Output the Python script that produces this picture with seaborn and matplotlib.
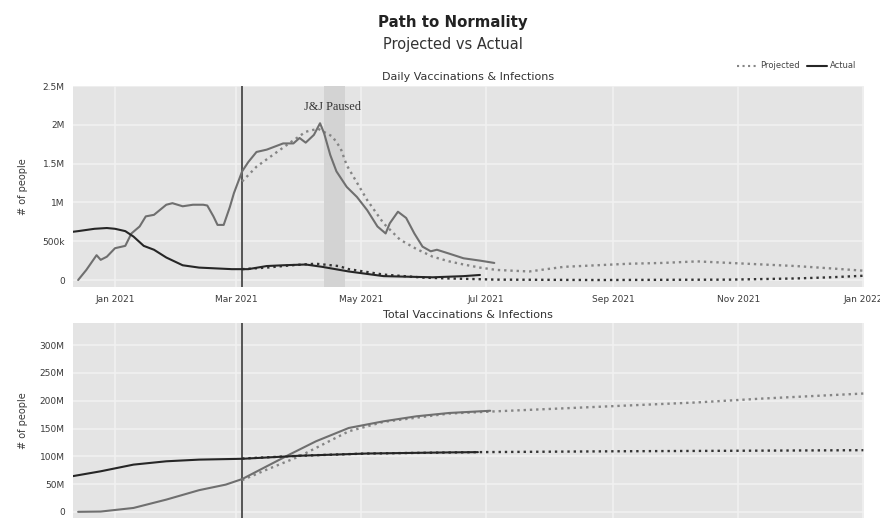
import matplotlib
matplotlib.use("Agg")
import matplotlib.pyplot as plt
import matplotlib.dates as mdates
from matplotlib.ticker import FuncFormatter
from matplotlib.lines import Line2D
import seaborn as sns
import pandas as pd

# ---------------- data (values in millions) ----------------
daily_vacc_actual_dates = ["2020-12-14", "2020-12-18", "2020-12-23", "2020-12-25", "2020-12-28",
                           "2021-01-01", "2021-01-06", "2021-01-09", "2021-01-13", "2021-01-16",
                           "2021-01-20", "2021-01-26", "2021-01-29", "2021-02-03", "2021-02-08",
                           "2021-02-13", "2021-02-15", "2021-02-18", "2021-02-20", "2021-02-23",
                           "2021-02-26", "2021-02-28", "2021-03-04", "2021-03-07", "2021-03-11",
                           "2021-03-16", "2021-03-24", "2021-03-29", "2021-04-01", "2021-04-04",
                           "2021-04-08", "2021-04-11", "2021-04-13", "2021-04-16", "2021-04-19",
                           "2021-04-24", "2021-04-29", "2021-05-04", "2021-05-09", "2021-05-13",
                           "2021-05-15", "2021-05-19", "2021-05-23", "2021-05-27", "2021-05-31",
                           "2021-06-04", "2021-06-07", "2021-06-13", "2021-06-20", "2021-06-28",
                           "2021-07-05"]
daily_vacc_actual = [0.0, 0.13, 0.32, 0.26, 0.30,
                     0.41, 0.44, 0.60, 0.69, 0.82,
                     0.84, 0.97, 0.99, 0.95, 0.97,
                     0.97, 0.96, 0.82, 0.71, 0.71,
                     0.94, 1.12, 1.40, 1.52, 1.65,
                     1.68, 1.76, 1.76, 1.83, 1.77,
                     1.87, 2.02, 1.89, 1.61, 1.40,
                     1.20, 1.07, 0.90, 0.69, 0.60,
                     0.73, 0.88, 0.80, 0.60, 0.43,
                     0.37, 0.39, 0.34, 0.28, 0.25,
                     0.22]

daily_vacc_proj_dates = ["2021-03-04", "2021-03-11", "2021-03-21", "2021-03-29", "2021-04-04",
                         "2021-04-10", "2021-04-17", "2021-04-21", "2021-04-24", "2021-05-04",
                         "2021-05-12", "2021-05-20", "2021-05-28", "2021-06-05", "2021-06-13",
                         "2021-06-20", "2021-06-28", "2021-07-06", "2021-07-22", "2021-08-08",
                         "2021-08-24", "2021-09-09", "2021-09-25", "2021-10-12", "2021-10-28",
                         "2021-11-13", "2021-11-29", "2021-12-16", "2022-01-01"]
daily_vacc_proj = [1.27, 1.46, 1.65, 1.80, 1.91,
                   1.95, 1.85, 1.70, 1.48, 1.03,
                   0.73, 0.52, 0.40, 0.30, 0.24,
                   0.20, 0.16, 0.13, 0.11, 0.17,
                   0.19, 0.21, 0.22, 0.24, 0.22,
                   0.20, 0.18, 0.15, 0.12]

daily_inf_actual_dates = ["2020-12-11", "2020-12-14", "2020-12-22", "2020-12-28", "2021-01-01",
                          "2021-01-06", "2021-01-10", "2021-01-15", "2021-01-20", "2021-01-26",
                          "2021-02-03", "2021-02-11", "2021-02-27", "2021-03-07", "2021-03-16",
                          "2021-03-24", "2021-04-04", "2021-04-12", "2021-04-25", "2021-05-12",
                          "2021-06-05", "2021-06-20", "2021-06-28"]
daily_inf_actual = [0.62, 0.63, 0.66, 0.67, 0.66,
                    0.63, 0.56, 0.44, 0.39, 0.29,
                    0.19, 0.16, 0.14, 0.14, 0.18,
                    0.19, 0.20, 0.17, 0.11, 0.05,
                    0.035, 0.05, 0.065]

daily_inf_proj_dates = ["2021-03-04", "2021-03-16", "2021-03-28", "2021-04-09", "2021-04-20",
                        "2021-04-25", "2021-05-12", "2021-06-01", "2021-06-13", "2021-07-06",
                        "2021-08-24", "2021-10-28", "2021-11-29", "2021-12-16", "2022-01-01"]
daily_inf_proj = [0.14, 0.16, 0.19, 0.21, 0.18,
                  0.14, 0.07, 0.03, 0.02, 0.005,
                  0.0, 0.005, 0.02, 0.035, 0.055]

total_vacc_actual_dates = ["2020-12-14", "2020-12-25", "2021-01-10", "2021-01-26", "2021-02-11",
                           "2021-02-24", "2021-03-04", "2021-03-16", "2021-03-27", "2021-04-09",
                           "2021-04-25", "2021-05-12", "2021-05-28", "2021-06-13", "2021-07-03"]
total_vacc_actual = [0, 0.5, 7, 22, 39,
                     49, 59, 82, 103, 127,
                     151, 163, 172, 178, 182]

total_vacc_proj_dates = ["2021-03-04", "2021-03-16", "2021-04-01", "2021-04-25", "2021-05-12",
                         "2021-06-13", "2021-07-06", "2021-08-24", "2021-10-12", "2021-11-13",
                         "2022-01-01"]
total_vacc_proj = [57, 76, 100, 145, 162,
                   177, 181, 189, 197, 204,
                   213]

total_inf_actual_dates = ["2020-12-11", "2020-12-25", "2021-01-10", "2021-01-26", "2021-02-11",
                          "2021-03-04", "2021-04-01", "2021-05-04", "2021-06-13", "2021-06-27"]
total_inf_actual = [64, 73, 85, 91, 94,
                    95.5, 101, 105, 107, 107.5]

total_inf_proj_dates = ["2021-03-04", "2021-04-01", "2021-05-04", "2021-06-27", "2021-09-01",
                        "2022-01-01"]
total_inf_proj = [96, 101, 105, 107.5, 109, 111]

daily_yticks = [0, 0.5, 1, 1.5, 2, 2.5]
total_yticks = [0, 50, 100, 150, 200, 250, 300]
start_marker = "2021-03-04"
jj_pause = ("2021-04-13", "2021-04-23")

# ---------------- style ----------------
BG = "#e4e4e4"
GRID = "#f1f1f1"
sns.set_theme(style="darkgrid", rc={"axes.facecolor": BG, "grid.color": GRID,
                                     "grid.linewidth": 1.2, "figure.facecolor": "white"})
plt.rcParams["font.family"] = ["DejaVu Sans"]

C_VACC = "#6f6f6f"
C_INF = "#262626"
C_VACC_P = "#858585"
C_INF_P = "#333333"

fig = plt.figure(figsize=(8.8, 5.18), dpi=100)
W, H = 880, 518
ax1 = fig.add_axes([73 / W, 1 - 287 / H, (864 - 73) / W, (287 - 86) / H])
ax2 = fig.add_axes([73 / W, 1 - 518.5 / H, (864 - 73) / W, (518.5 - 323) / H])


def frame(dates, vals):
    return pd.DataFrame({"date": pd.to_datetime(dates), "value": [v * 1e6 for v in vals]})


def draw(ax, dates, vals, color, dotted):
    sns.lineplot(data=frame(dates, vals), x="date", y="value", ax=ax, color=color,
                 linewidth=1.5 if not dotted else 1.7,
                 linestyle=":" if dotted else "-", zorder=3)


# top panel
ax1.axvspan(pd.Timestamp(jj_pause[0]), pd.Timestamp(jj_pause[1]), color="#d3d3d3", zorder=1, lw=0)
draw(ax1, daily_vacc_proj_dates, daily_vacc_proj, C_VACC_P, True)
draw(ax1, daily_inf_proj_dates, daily_inf_proj, C_INF_P, True)
draw(ax1, daily_vacc_actual_dates, daily_vacc_actual, C_VACC, False)
draw(ax1, daily_inf_actual_dates, daily_inf_actual, C_INF, False)
ax1.text(pd.Timestamp("2021-04-17"), 2.23e6, "J&J Paused", family="Liberation Serif",
         fontsize=8.8, ha="center", va="center", color="#333333")

# bottom panel
draw(ax2, total_vacc_proj_dates, total_vacc_proj, C_VACC_P, True)
draw(ax2, total_inf_proj_dates, total_inf_proj, C_INF_P, True)
draw(ax2, total_vacc_actual_dates, total_vacc_actual, C_VACC, False)
draw(ax2, total_inf_actual_dates, total_inf_actual, C_INF, False)


def fmt(v, _):
    if abs(v) < 1:
        return "0"
    if abs(v) >= 1e6:
        return f"{v / 1e6:g}M"
    return f"{v / 1e3:g}k"


xmin, xmax = pd.Timestamp("2020-12-11 12:00"), pd.Timestamp("2022-01-01 08:00")
for ax, yt, ylim in [(ax1, daily_yticks, (-0.09e6, 2.5e6)), (ax2, total_yticks, (-12e6, 340e6))]:
    ax.axvline(pd.Timestamp(start_marker), color="#555555", lw=1.4, zorder=2)
    ax.set_xlim(xmin, xmax)
    ax.set_ylim(*ylim)
    ax.set_yticks([v * 1e6 for v in yt])
    ax.yaxis.set_major_formatter(FuncFormatter(fmt))
    ax.xaxis.set_major_locator(mdates.MonthLocator(bymonth=[1, 3, 5, 7, 9, 11]))
    ax.xaxis.set_major_formatter(mdates.DateFormatter("%b %Y"))
    ax.grid(True, color=GRID, lw=1.2)
    for s in ax.spines.values():
        s.set_visible(False)
    ax.tick_params(axis="both", length=4, width=0.8, color="#999999", labelsize=6.5,
                   labelcolor="#3a3a3a", pad=2)
    ax.set_xlabel("")
    ax.set_ylabel("# of people", fontsize=7, color="#3a3a3a")
    ax.yaxis.set_label_coords(-0.057, 0.5)

ax2.tick_params(axis="x", labelbottom=False, length=0)

fig.text(453 / W, 1 - 23 / H, "Path to Normality", ha="center", va="center",
         fontsize=10.8, fontweight="bold", color="#222222")
fig.text(453 / W, 1 - 44 / H, "Projected vs Actual", ha="center", va="center",
         fontsize=10.5, color="#333333")
fig.text(468 / W, 1 - 77 / H, "Daily Vaccinations & Infections", ha="center", va="center",
         fontsize=8, color="#333333")
fig.text(468 / W, 1 - 315 / H, "Total Vaccinations & Infections", ha="center", va="center",
         fontsize=8, color="#333333")

handles = [Line2D([0], [0], color=C_VACC_P, lw=1.5, linestyle=":"),
           Line2D([0], [0], color=C_INF, lw=1.5)]
fig.legend(handles, ["Projected", "Actual"], loc="center right",
           bbox_to_anchor=(864 / W, 1 - 66 / H), ncol=2, frameon=False, fontsize=6,
           handlelength=2.4, columnspacing=0.8, handletextpad=0.4, labelcolor="#444444")

fig.savefig("out.png", dpi=100)
